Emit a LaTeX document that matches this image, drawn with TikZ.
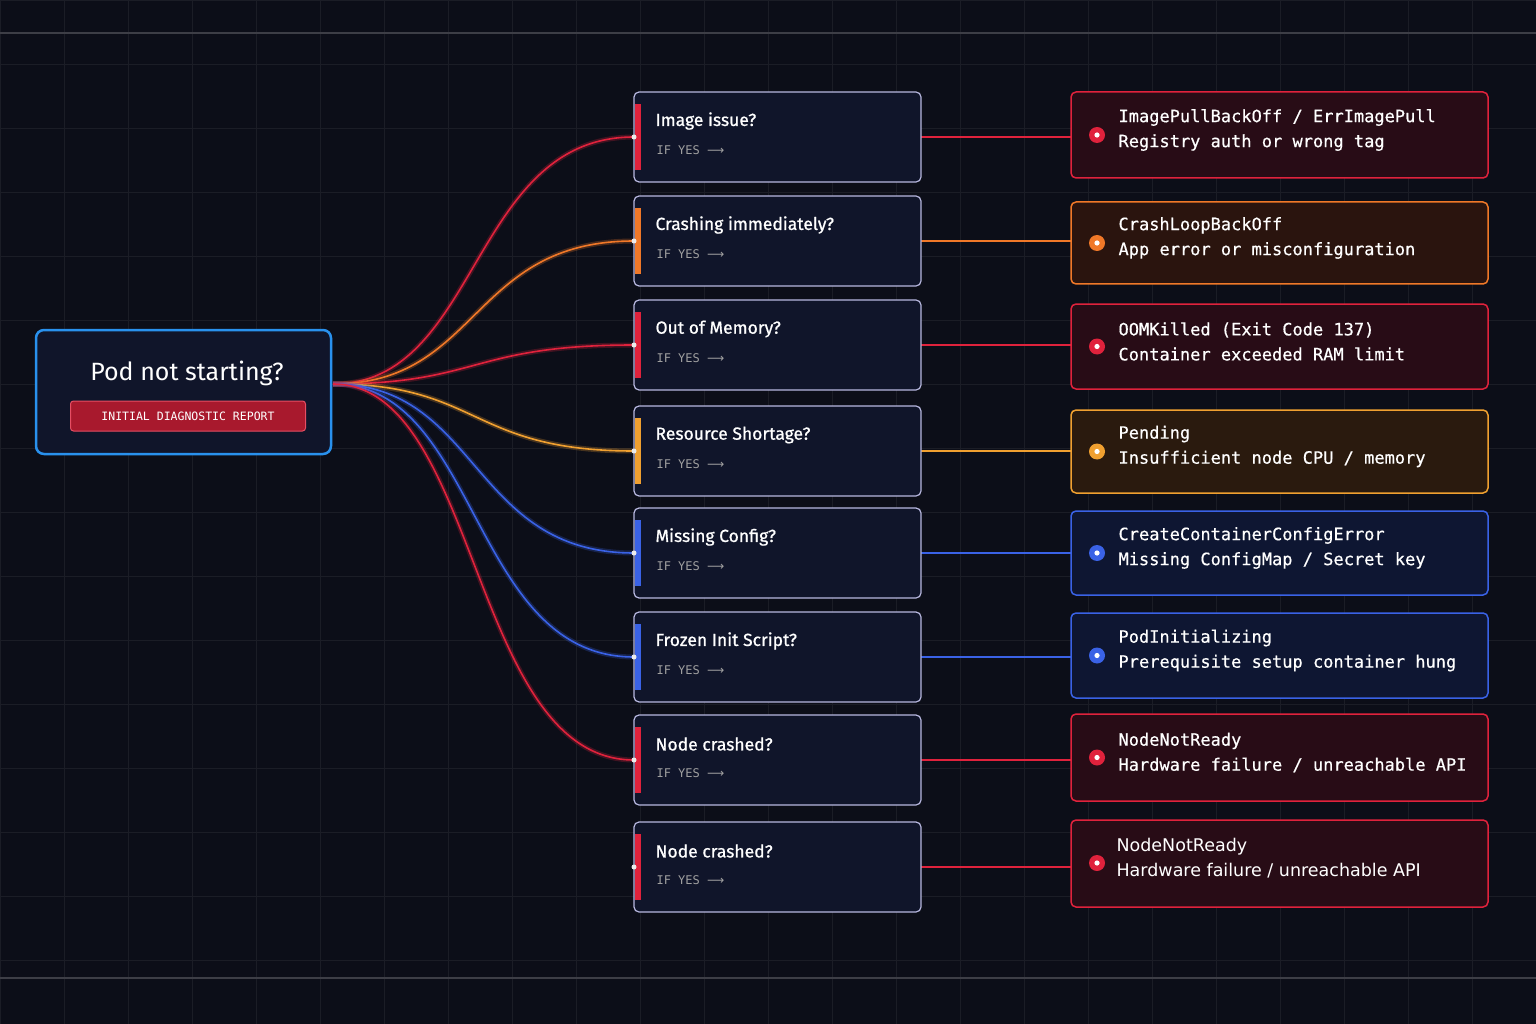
\documentclass[tikz,border=0pt]{standalone}
\usepackage{fontspec}
\setmainfont{Fira Sans}
\setmonofont{DejaVu Sans Mono}
\newfontfamily\dsans{DejaVu Sans}
\newfontfamily\semi[FakeBold=0.8]{Fira Sans}
\newfontfamily\monosemi[FakeBold=0.5]{DejaVu Sans Mono}
\begin{document}
\begin{tikzpicture}[x=1pt,y=-1pt,
  mbox/.style={draw=gray!60!blue!40, line width=1.2pt, rounded corners=5pt, fill=boxbg},
  rbox/.style={rounded corners=5pt, line width=1.5pt},
  ttl/.style={anchor=west, text=white, font=\semi\fontsize{17.5}{20}\selectfont},
  ify/.style={anchor=west, text=gray!75, font=\ttfamily\fontsize{12}{13}\selectfont},
  rt/.style={anchor=west, text=white, font=\monosemi\fontsize{17}{25}\selectfont, align=left},
  curve/.style={line width=1.6pt},
]
\definecolor{bg}{HTML}{0C0E18}
\definecolor{boxbg}{HTML}{10152A}
\definecolor{cred}{HTML}{E0223C}
\definecolor{cora}{HTML}{F07828}
\definecolor{camb}{HTML}{F0A030}
\definecolor{cblu}{HTML}{3A62E6}
\definecolor{fred}{HTML}{280C16}
\definecolor{fora}{HTML}{2A140E}
\definecolor{famb}{HTML}{2A1A0E}
\definecolor{fblu}{HTML}{0E1632}
\fill[bg] (0,0) rectangle (1536,1024);
\useasboundingbox (0,0) rectangle (1536,1024);
\foreach \i in {0,...,24} \draw[white!6!bg, line width=0.6pt] (\i*64,0) -- (\i*64,1024);
\foreach \i in {0,...,16} \draw[white!6!bg, line width=0.6pt] (0,\i*64) -- (1536,\i*64);
\draw[white!20!bg, line width=1.5pt] (0,33) -- (1536,33);
\draw[white!20!bg, line width=1.5pt] (0,978) -- (1536,978);
% source
\draw[draw=cblu!70!cyan, line width=2.5pt, rounded corners=8pt, fill=boxbg] (36,330) rectangle (331,454);
\node[text=white, font=\fontsize{25}{30}\selectfont] (src) at (187,373) {Pod not starting?};
\node[fill=cred!75!black, draw=cred!80!white, line width=1pt, rounded corners=3pt, minimum width=235pt, minimum height=30pt, text=white, font=\ttfamily\fontsize{11.5}{12}\selectfont] (badge) at (188,416) {INITIAL DIAGNOSTIC REPORT};
\coordinate (o) at (333,384);
\foreach \n/\yt/\yb/\ryt/\ryb/\c/\f/\t/\ra/\rb in {
 1/92/182/92/178/cred/fred/{Image issue?}/{ImagePullBackOff / ErrImagePull}/{Registry auth or wrong tag},
 2/196/286/202/284/cora/fora/{Crashing immediately?}/{CrashLoopBackOff}/{App error or misconfiguration},
 3/300/390/304/389/cred/fred/{Out of Memory?}/{OOMKilled (Exit Code 137)}/{Container exceeded RAM limit},
 4/406/496/410/493/camb/famb/{Resource Shortage?}/{Pending}/{Insufficient node CPU / memory},
 5/508/598/511/595/cblu/fblu/{Missing Config?}/{CreateContainerConfigError}/{Missing ConfigMap / Secret key},
 6/612/702/613/698/cblu/fblu/{Frozen Init Script?}/{PodInitializing}/{Prerequisite setup container hung},
 7/715/805/714/801/cred/fred/{Node crashed?}/{NodeNotReady}/{Hardware failure / unreachable API}}
{
 \pgfmathsetmacro\ym{(\yt+\yb)/2}
 \pgfmathsetmacro\rym{(\ryt+\ryb)/2}
 \coordinate (q\n) at (634,\ym);
 \draw[curve, \c, opacity=0.25, line width=5pt] (o) .. controls (480,384) and (470,\ym) .. (q\n);
 \draw[curve, \c] (o) .. controls (480,384) and (470,\ym) .. (q\n);
 \draw[\c, line width=1.6pt] (921,\ym) -- (1071,\ym);
 \draw[mbox] (634,\yt) rectangle (921,\yb);
 \fill[\c] (635,\yt+12) rectangle (641,\yb-12);
 \fill[white!85!gray] (634,\ym) circle (2.5pt);
 \node[ttl] (m\n) at (652,\yt+29) {\t};
 \node[ify] (y\n) at (653,\yt+58) {IF YES {\dsans⟶}};
 \draw[rbox, draw=\c, fill=\f] (1071,\ryt) rectangle (1488,\ryb);
 \fill[\c] (1097,\rym) circle (8pt);
 \fill[white] (1097,\rym) circle (2.6pt);
 \node[rt] (r\n) at (1115,\rym-5) {\ra\\\rb};
}
\draw[cred, line width=1.6pt] (921,867) -- (1071,867);
\draw[mbox] (634,822) rectangle (921,912);
\fill[cred] (635,834) rectangle (641,900);
\fill[white!85!gray] (634,867) circle (2.5pt);
\node[ttl] (m8) at (652,851) {Node crashed?};
\node[ify] (y8) at (653,880) {IF YES {\dsans⟶}};
\draw[rbox, draw=cred, fill=fred] (1071,820) rectangle (1488,907);
\fill[cred] (1097,863) circle (8pt);
\fill[white] (1097,863) circle (2.6pt);
\node[anchor=west, text=white, font=\dsans\fontsize{17.5}{25}\selectfont, align=left] (r8) at (1113,858) {NodeNotReady\\Hardware failure / unreachable API};
\end{tikzpicture}
\end{document}
